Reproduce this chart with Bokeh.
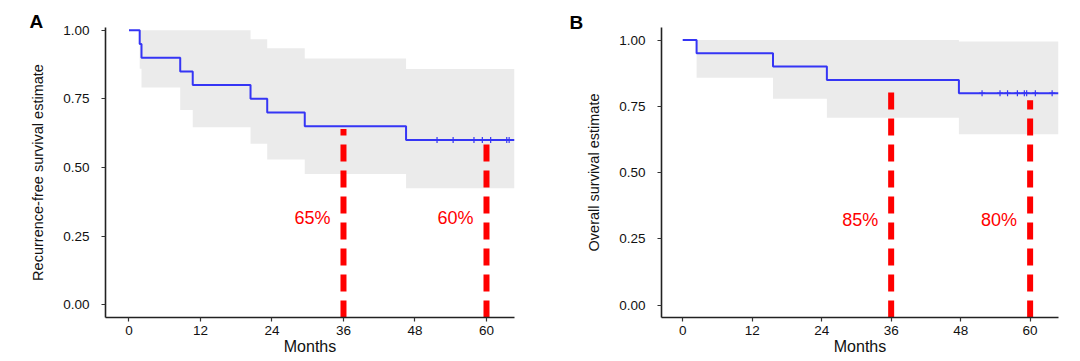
import numpy as np
from bokeh.plotting import figure
from bokeh.layouts import row
from bokeh.models import FixedTicker, NumeralTickFormatter, Range1d, Title
from bokeh.core.properties import value
from bokeh.embed import file_html
from bokeh.resources import INLINE

# ---------------- data ----------------
x_ticks = [0, 12, 24, 36, 48, 60]
y_ticks = [0.0, 0.25, 0.50, 0.75, 1.00]

# Panel A: recurrence-free survival
A_times = [0, 1.8, 2.1, 8.6, 10.7, 20.4, 23.2, 29.5, 46.5]
A_surv = [1.00, 0.95, 0.90, 0.85, 0.80, 0.75, 0.70, 0.65, 0.60]
A_upper = [1.00, 1.00, 1.00, 1.00, 1.00, 0.967, 0.934, 0.897, 0.859]
A_lower = [1.00, 0.86, 0.791, 0.709, 0.646, 0.586, 0.529, 0.476, 0.424]
A_censor = [51.7, 54.4, 57.9, 59.3, 60.7, 63.4, 63.8]
A_end = 64.7
A_marks = [36, 60]
A_mark_tops = [0.64, 0.60]
A_mark_text = ["65%", "60%"]

# Panel B: overall survival
B_times = [0, 2.4, 15.6, 24.9, 47.7]
B_surv = [1.00, 0.95, 0.90, 0.85, 0.80]
B_upper = [1.00, 1.00, 1.00, 1.00, 0.995]
B_lower = [1.00, 0.858, 0.779, 0.707, 0.645]
B_censor = [51.7, 54.8, 56.1, 57.8, 59.0, 59.4, 60.9, 63.8]
B_end = 64.9
B_marks = [36, 60]
B_mark_tops = [0.835, 0.773]
B_mark_text = ["85%", "80%"]

FONT = "Liberation Sans"
BLUE = "#3535f5"
RED = "#ff0000"
BAND = "#ebebeb"


def step_xy(times, vals, end):
    xs, ys = [], []
    bounds = list(times[1:]) + [end]
    for t0, t1, v in zip(times, bounds, vals):
        xs += [t0, t1]
        ys += [v, v]
    return xs, ys


def panel(letter, ylabel, times, surv, upper, lower, censor, end, marks, tops, texts,
          text_y, width, height, xr, yr, borders, title_offset, title_standoff):
    p = figure(width=width, height=height, output_backend="svg", toolbar_location=None,
               x_range=Range1d(*xr), y_range=Range1d(*yr),
               min_border_left=borders[0], min_border_right=borders[1],
               min_border_top=borders[2], min_border_bottom=borders[3],
               title=Title(text=letter, align="left", offset=title_offset,
                           standoff=title_standoff, text_font=FONT,
                           text_font_style="bold", text_font_size="19px",
                           text_color="black"))
    p.outline_line_color = None
    p.xgrid.visible = False
    p.ygrid.visible = False
    p.background_fill_color = "white"
    p.border_fill_color = "white"

    bx, blo = step_xy(times, lower, end)
    _, bhi = step_xy(times, upper, end)
    p.varea(x=bx, y1=blo, y2=bhi, fill_color=BAND, fill_alpha=1.0)

    p.segment(x0=marks, y0=[yr[0]] * len(marks), x1=marks, y1=tops,
              line_color=RED, line_width=6, line_dash="17 9", line_cap="butt")

    sx, sy = step_xy(times, surv, end)
    p.line(sx, sy, line_color=BLUE, line_width=2)

    idx = np.searchsorted(np.array(times), np.array(censor), side="right") - 1
    cy = [surv[i] for i in idx]
    p.scatter(censor, cy, marker="cross", size=6, line_color=BLUE, line_width=1.2)

    p.text(x=marks, y=[text_y] * len(marks), text=texts, text_align="right",
           text_baseline="middle", x_offset=-13, text_color=RED,
           text_font=value(FONT), text_font_size="18px")

    for ax in (p.xaxis[0], p.yaxis[0]):
        ax.axis_line_color = "#222222"
        ax.axis_line_width = 1.6
        ax.major_tick_line_color = "#333333"
        ax.major_tick_line_width = 1.2
        ax.major_tick_out = 4
        ax.major_tick_in = 0
        ax.minor_tick_line_color = None
        ax.major_label_text_font = FONT
        ax.major_label_text_font_size = "13.5px"
        ax.major_label_text_color = "#111111"
        ax.axis_label_text_font = FONT
        ax.axis_label_text_font_style = "normal"
        ax.axis_label_text_color = "#111111"
    p.xaxis.ticker = FixedTicker(ticks=x_ticks)
    p.yaxis.ticker = FixedTicker(ticks=y_ticks)
    p.yaxis.formatter = NumeralTickFormatter(format="0.00")
    p.xaxis.major_label_standoff = 4
    p.yaxis.major_label_standoff = 12
    p.yaxis.axis_label = ylabel
    p.yaxis.axis_label_text_font_size = "14.5px"
    p.yaxis.axis_label_standoff = 14
    p.xaxis.axis_label = "Months"
    p.xaxis.axis_label_text_font_size = "16px"
    p.xaxis.axis_label_standoff = 0
    return p


pA = panel("A", "Recurrence-free survival estimate", A_times, A_surv, A_upper, A_lower,
           A_censor, A_end, A_marks, A_mark_tops, A_mark_text, 0.314,
           560, 361, (-3.94, 64.7), (-0.047, 1.01), (105, 46, 27, 40),
           -76, -9)
pB = panel("B", "Overall survival estimate", B_times, B_surv, B_upper, B_lower,
           B_censor, B_end, B_marks, B_mark_tops, B_mark_text, 0.322,
           520, 361, (-3.66, 64.9), (-0.046, 1.0475), (101, 22, 25, 44),
           -92, -10)

layout = row(pA, pB)
open("out.html", "w").write(file_html(layout, INLINE))
